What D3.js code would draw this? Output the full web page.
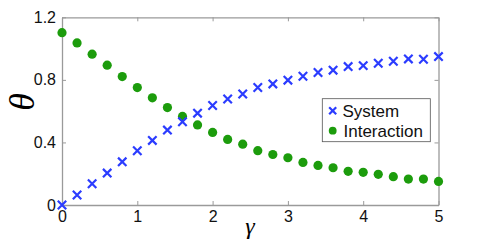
<!DOCTYPE html>
<html>
<head>
<meta charset="utf-8">
<script src="https://cdn.jsdelivr.net/npm/d3@7"></script>
<style>
body { margin: 0; background: #fff; }
text { font-family: "Liberation Sans", Arial, sans-serif; }
</style>
</head>
<body>
<svg width="485" height="241"></svg>
<script>
var gammas = [0, 0.2, 0.4, 0.6, 0.8, 1.0, 1.2, 1.4, 1.6, 1.8, 2.0, 2.2, 2.4,
	2.6, 2.8, 3.0, 3.2, 3.4, 3.6, 3.8, 4.0, 4.2, 4.4, 4.6, 4.8, 5.0];
var system = [0, 0.064, 0.136, 0.204, 0.276, 0.347, 0.413, 0.479, 0.532, 0.587, 0.636, 0.678, 0.710,
	0.751, 0.774, 0.798, 0.823, 0.847, 0.862, 0.885, 0.891, 0.906, 0.919, 0.934, 0.932, 0.949];
var interaction = [1.102, 1.036, 0.964, 0.894, 0.821, 0.751, 0.685, 0.623, 0.566, 0.512, 0.464, 0.419, 0.389,
	0.347, 0.323, 0.302, 0.272, 0.253, 0.238, 0.215, 0.209, 0.196, 0.181, 0.166, 0.166, 0.151];
var xTicks = [0, 1, 2, 3, 4, 5];
var yTicks = [0, 0.4, 0.8, 1.2];

var svg = d3.select("svg");
var pLeft = 62, pRight = 438.5, pTop = 17.3, pBottom = 205;

var x = d3.scaleLinear().domain([0, 5]).range([pLeft, pRight]);
var y = d3.scaleLinear().domain([0, 1.2]).range([pBottom, pTop]);

var blue = "#2b3cff", green = "#1c9c0c", axisCol = "#9a9a9a";

// axes, ticks pointing inward (matlab style)
svg.append("g").attr("transform", "translate(0," + pBottom + ")")
	.call(d3.axisBottom(x).tickValues(xTicks).tickSizeInner(-4).tickSizeOuter(0).tickPadding(6)
		.tickFormat(d3.format("d")));
svg.append("g").attr("transform", "translate(0," + pTop + ")")
	.call(d3.axisTop(x).tickValues(xTicks).tickSizeInner(-4).tickSizeOuter(0).tickFormat(""));
svg.append("g").attr("transform", "translate(" + pLeft + ",0)")
	.call(d3.axisLeft(y).tickValues(yTicks).tickSizeInner(-4).tickSizeOuter(0).tickPadding(6)
		.tickFormat(function(d) { return d === 0 ? "0" : d3.format(".1f")(d); }));
svg.append("g").attr("transform", "translate(" + pRight + ",0)")
	.call(d3.axisRight(y).tickValues(yTicks).tickSizeInner(-4).tickSizeOuter(0).tickFormat(""));

svg.selectAll(".domain").attr("stroke", axisCol).attr("stroke-width", 1.3);
svg.selectAll(".tick line").attr("stroke", axisCol);
svg.selectAll(".tick text").attr("font-size", 16).attr("fill", "#111")
	.style("font-family", "Liberation Sans, Arial, sans-serif");

// interaction: filled circles
svg.append("g").selectAll("circle")
	.data(gammas)
	.enter().append("circle")
		.attr("cx", function(d) { return x(d); })
		.attr("cy", function(d, i) { return y(interaction[i]); })
		.attr("r", 4.6)
		.attr("fill", green);

// system: crosses
var cross = d3.symbol().type(d3.symbolX).size(48);
svg.append("g").selectAll("path")
	.data(gammas)
	.enter().append("path")
		.attr("d", cross)
		.attr("transform", function(d, i) { return "translate(" + x(d) + "," + y(system[i]) + ")"; })
		.attr("fill", "none")
		.attr("stroke", blue)
		.attr("stroke-width", 2.2);

// legend
var lg = svg.append("g");
lg.append("rect").attr("x", 322.3).attr("y", 98.7).attr("width", 108).attr("height", 43)
	.attr("fill", "#fff").attr("stroke", "#555").attr("stroke-width", 0.8);
lg.append("path").attr("d", d3.symbol().type(d3.symbolX).size(34))
	.attr("transform", "translate(332.7,110.7)")
	.attr("fill", "none").attr("stroke", blue).attr("stroke-width", 2.2);
lg.append("circle").attr("cx", 332.7).attr("cy", 130.7).attr("r", 3.9).attr("fill", green);
lg.append("text").attr("x", 342.5).attr("y", 116.8).attr("font-size", 17).attr("fill", "#111").text("System");
lg.append("text").attr("x", 343.5).attr("y", 136.6).attr("font-size", 17).attr("fill", "#111").text("Interaction");

// axis labels
svg.append("text")
	.attr("transform", "translate(34,102) rotate(-90)")
	.attr("text-anchor", "middle")
	.style("font-family", "Liberation Serif, Times New Roman, serif")
	.style("font-style", "italic")
	.attr("font-size", 36)
	.text("θ");
svg.append("text")
	.attr("x", 250).attr("y", 234)
	.attr("text-anchor", "middle")
	.style("font-family", "Liberation Serif, Times New Roman, serif")
	.style("font-style", "italic")
	.attr("font-size", 24)
	.text("γ");
</script>
</body>
</html>
